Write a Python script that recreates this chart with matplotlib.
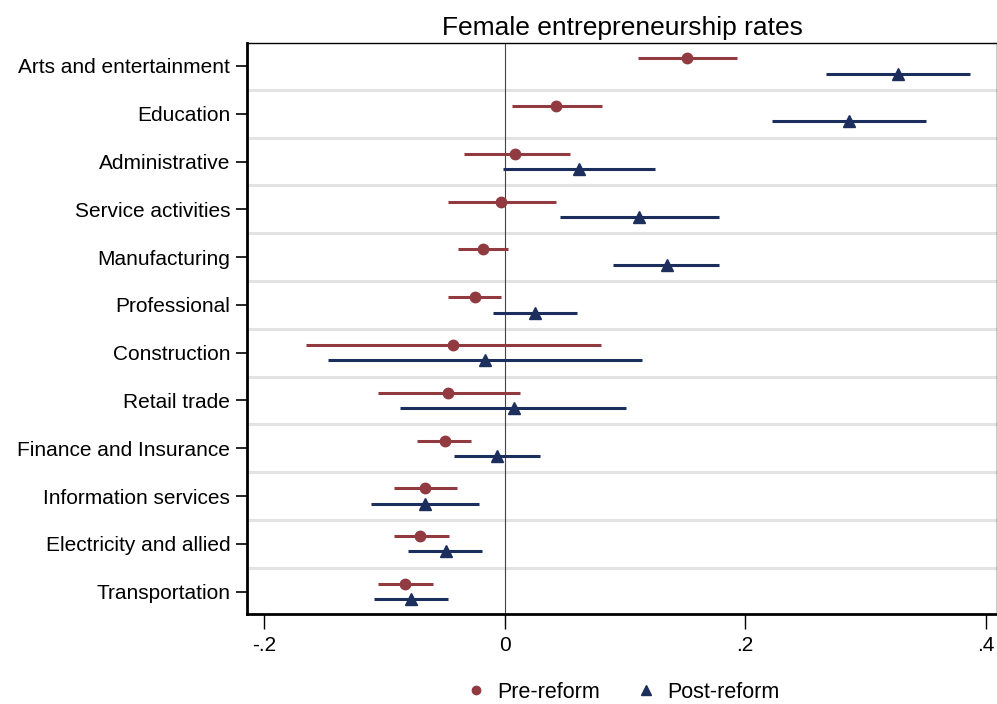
import numpy as np
import matplotlib.pyplot as plt
from matplotlib.lines import Line2D

plt.rcParams['font.family'] = ['Liberation Sans', 'DejaVu Sans']

sectors = ["Arts and entertainment", "Education", "Administrative", "Service activities",
           "Manufacturing", "Professional", "Construction", "Retail trade",
           "Finance and Insurance", "Information services", "Electricity and allied",
           "Transportation"]

# pre-reform estimates and 95% CI
pre_est = [0.152, 0.043, 0.009, -0.003, -0.018, -0.025, -0.043, -0.047, -0.050, -0.066, -0.070, -0.083]
pre_lo = [0.111, 0.006, -0.034, -0.047, -0.039, -0.047, -0.165, -0.105, -0.073, -0.092, -0.092, -0.105]
pre_hi = [0.193, 0.081, 0.054, 0.043, 0.003, -0.003, 0.080, 0.013, -0.028, -0.040, -0.046, -0.060]

# post-reform estimates and 95% CI
post_est = [0.327, 0.286, 0.062, 0.112, 0.135, 0.025, -0.016, 0.008, -0.006, -0.066, -0.049, -0.078]
post_lo = [0.267, 0.222, -0.001, 0.046, 0.090, -0.010, -0.147, -0.087, -0.042, -0.111, -0.080, -0.109]
post_hi = [0.387, 0.350, 0.125, 0.178, 0.178, 0.060, 0.114, 0.101, 0.029, -0.021, -0.019, -0.047]

xticks = [-0.2, 0, 0.2, 0.4]
xticklabels = ["-.2", "0", ".2", ".4"]

red = "#913a40"
navy = "#1c2f5c"

fig = plt.figure(figsize=(9.97, 7.04), dpi=100)
ax = fig.add_axes([0.2477, 0.1278, 0.7523, 0.8111])

pos = np.arange(1, len(sectors) + 1)
off = 0.16

ax.hlines(pos - off, pre_lo, pre_hi, color=red, lw=2.2, zorder=3)
ax.plot(pre_est, pos - off, 'o', color=red, ms=7.5, zorder=4)
ax.hlines(pos + off, post_lo, post_hi, color=navy, lw=2.2, zorder=3)
ax.plot(post_est, pos + off, '^', color=navy, ms=8, zorder=4)

ax.axvline(0, color="#444444", lw=0.8, zorder=2)

ax.set_yticks(pos)
ax.set_yticklabels(sectors, fontsize=15)
ax.set_yticks(pos[:-1] + 0.5, minor=True)
ax.grid(which='minor', axis='y', color="#e3e3e3", lw=2.2, zorder=1)
ax.tick_params(axis='y', which='minor', length=0)
ax.tick_params(axis='y', which='major', length=8, width=1.2, pad=4)
ax.set_ylim(12.47, 0.52)

ax.set_xticks(xticks)
ax.set_xticklabels(xticklabels, fontsize=15)
ax.tick_params(axis='x', length=11, width=1.0, pad=5)
ax.set_xlim(-0.2143, 0.4094)

for s in ['left', 'bottom']:
    ax.spines[s].set_linewidth(2)
ax.spines['top'].set_linewidth(1)
ax.spines['right'].set_linewidth(1)

ax.set_title("Female entrepreneurship rates", fontsize=19, pad=6)

handles = [Line2D([], [], marker='o', color=red, ls='none', ms=6),
           Line2D([], [], marker='^', color=navy, ls='none', ms=7)]
fig.legend(handles, ["Pre-reform", "Post-reform"], loc='center', bbox_to_anchor=(0.622, 0.017),
           ncol=2, frameon=False, fontsize=15.5, handlelength=1.4, handletextpad=0.3,
           columnspacing=1.4)

fig.savefig("out.png", dpi=100)
